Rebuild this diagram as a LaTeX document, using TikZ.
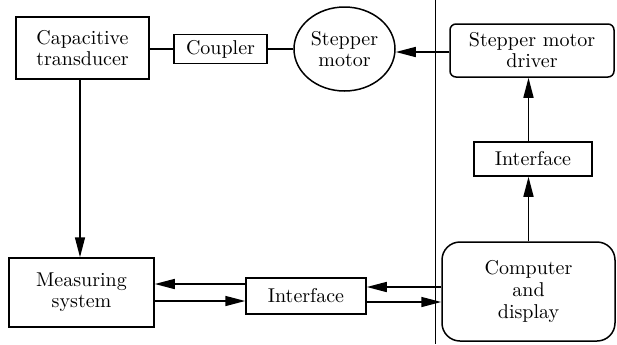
\documentclass[tikz,border=0pt]{standalone}
\usetikzlibrary{arrows.meta,shapes.geometric}
\begin{document}
\begin{tikzpicture}[x=0.5pt,y=-0.5pt,
  every node/.style={font=\fontsize{10}{10.5}\selectfont, align=center, inner sep=0pt},
  blockbox/.style={draw, line width=0.75pt, rectangle},
  roundbox/.style={draw, line width=0.75pt, rectangle, rounded corners=#1},
  link/.style={line width=0.75pt},
  arr/.style={line width=0.75pt, -{Triangle[length=10pt,width=5pt]}}]
\useasboundingbox (0,0) rectangle (617,344);

% upper chain: transducer, coupler, motor, driver
\node[blockbox, minimum width=66.5pt, minimum height=31pt] (ct) at (82.5,48) {Capacitive\\transducer};
\node[blockbox, minimum width=46.5pt, minimum height=14.5pt] (coupler) at (220.5,49) {Coupler};
\node[draw, ellipse, line width=0.75pt, minimum width=50.5pt, minimum height=42pt] (motor) at (344.5,49) {Stepper\\motor};
\node[roundbox=3pt, minimum width=82pt, minimum height=26.5pt] (driver) at (532,50.5) {Stepper motor\\driver};

% right column
\node[blockbox, minimum width=59pt, minimum height=17pt] (ifaceR) at (533,159) {Interface};
\node[roundbox=9pt, minimum width=86.5pt, minimum height=49.5pt, font=\fontsize{10}{11}\selectfont] (comp) at (528.5,291.5) {Computer\\and\\display};

% bottom row
\node[blockbox, minimum width=72.5pt, minimum height=34.5pt] (meas) at (81.5,292.5) {Measuring\\system};
\node[blockbox, minimum width=60pt, minimum height=18pt] (ifaceB) at (306,296) {Interface};

% divider
\draw[line width=0.4pt] (435,0) -- (435,344);

% connectors
\draw[link] (ct.east |- coupler.west) -- (coupler.west);
\draw[link] (coupler.east) -- (motor.west);
\draw[arr] (driver.west |- 0,52) -- (motor.east |- 0,52);
\draw[arr] (comp.north) -- (comp.north |- ifaceR.south);
\draw[arr] (ifaceR.north -| comp.north) -- (driver.south -| comp.north);
\draw[arr] (ct.south -| 80,0) -- (meas.north -| 80,0);
\draw[arr] (ifaceB.west |- 0,284) -- (meas.east |- 0,284);
\draw[arr] (meas.east |- 0,301) -- (ifaceB.west |- 0,301);
\draw[arr] (comp.west |- 0,287) -- (ifaceB.east |- 0,287);
\draw[arr] (ifaceB.east |- 0,302) -- (comp.west |- 0,302);
\end{tikzpicture}
\end{document}
